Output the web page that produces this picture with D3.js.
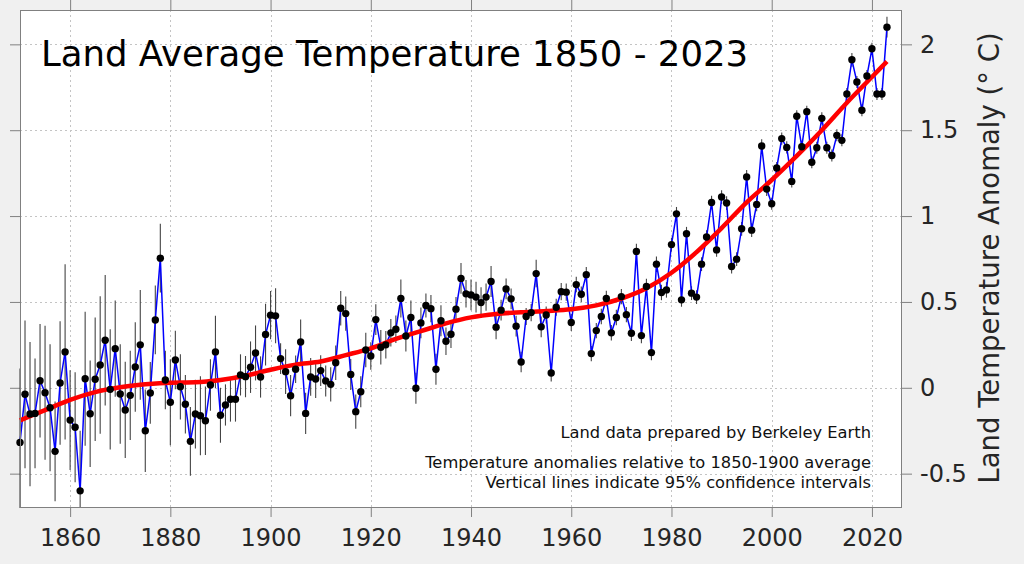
<!DOCTYPE html>
<html>
<head>
<meta charset="utf-8">
<script src="https://cdn.jsdelivr.net/npm/d3@7"></script>
<style>
  html, body { margin: 0; padding: 0; background: #f0f0f0; }
  svg { display: block; font-family: "DejaVu Sans", sans-serif; }
</style>
</head>
<body>
<svg id="chart" width="1024" height="564"></svg>
<script>
const title = "Land Average Temperature 1850 - 2023";
const yLabel = "Land Temperature Anomaly (° C)";
const notes = ["Land data prepared by Berkeley Earth",
  "Temperature anomalies relative to 1850-1900 average",
  "Vertical lines indicate 95% confidence intervals"];

const firstYear = 1850;
const anomalies = [
  -0.318,-0.038,-0.153,-0.149,0.041,-0.029,-0.116,-0.370,0.028,0.209,
  -0.188,-0.230,-0.600,0.053,-0.151,0.050,0.133,0.277,-0.009,0.228,
  -0.036,-0.129,-0.044,0.121,0.250,-0.250,-0.030,0.395,0.755,0.045,
  -0.084,0.162,0.006,-0.096,-0.312,-0.153,-0.163,-0.192,0.016,0.209,
  -0.160,-0.100,-0.067,-0.067,0.075,0.065,0.120,0.203,0.063,0.310,
  0.423,0.419,0.170,0.094,-0.046,0.108,0.267,-0.149,0.063,0.051,
  0.100,0.040,0.020,0.146,0.463,0.432,0.077,-0.139,-0.023,0.220,
  0.185,0.397,0.236,0.250,0.320,0.341,0.520,0.302,0.409,-0.003,
  0.378,0.479,0.461,0.108,0.390,0.271,0.312,0.458,0.637,0.547,
  0.541,0.528,0.496,0.528,0.619,0.353,0.452,0.576,0.518,0.359,
  0.150,0.415,0.438,0.665,0.355,0.424,0.086,0.469,0.560,0.557,
  0.380,0.601,0.545,0.659,0.199,0.333,0.415,0.520,0.320,0.409,
  0.531,0.426,0.318,0.794,0.304,0.590,0.205,0.720,0.555,0.570,
  0.834,1.013,0.512,0.897,0.551,0.528,0.720,0.878,1.079,0.803,
  1.111,1.076,0.706,0.749,0.926,1.228,0.918,1.068,1.408,1.157,
  1.072,1.280,1.451,1.400,1.202,1.581,1.404,1.608,1.313,1.398,
  1.569,1.398,1.353,1.470,1.441,1.711,1.910,1.781,1.616,1.816,
  1.974,1.711,1.711,2.100
];
const uncertainty = [
  0.43,0.43,0.42,0.32,0.33,0.39,0.37,0.29,0.36,0.51,
  0.29,0.32,0.35,0.39,0.31,0.36,0.40,0.38,0.35,0.28,
  0.29,0.28,0.26,0.26,0.32,0.24,0.18,0.20,0.20,0.17,
  0.25,0.17,0.19,0.17,0.20,0.20,0.23,0.20,0.15,0.21,
  0.16,0.12,0.13,0.13,0.12,0.12,0.15,0.16,0.12,0.18,
  0.14,0.16,0.09,0.13,0.12,0.08,0.13,0.12,0.11,0.11,
  0.09,0.09,0.10,0.10,0.10,0.10,0.09,0.10,0.09,0.10,
  0.08,0.09,0.10,0.08,0.08,0.08,0.11,0.09,0.10,0.09,
  0.09,0.07,0.08,0.09,0.09,0.08,0.08,0.07,0.09,0.08,
  0.09,0.09,0.09,0.08,0.09,0.07,0.06,0.06,0.06,0.06,
  0.06,0.05,0.05,0.08,0.06,0.05,0.05,0.05,0.05,0.05,
  0.05,0.045,0.045,0.045,0.045,0.045,0.045,0.045,0.045,0.045,
  0.045,0.045,0.045,0.045,0.045,0.045,0.045,0.045,0.045,0.045,
  0.04,0.04,0.04,0.04,0.04,0.04,0.04,0.04,0.04,0.04,
  0.04,0.04,0.04,0.04,0.04,0.04,0.04,0.04,0.04,0.04,
  0.035,0.035,0.035,0.035,0.035,0.035,0.035,0.035,0.035,0.035,
  0.035,0.035,0.035,0.035,0.035,0.035,0.04,0.035,0.035,0.035,
  0.035,0.035,0.035,0.06
];
const trendYears = [1850,1855,1860,1865,1870,1875,1880,1885,1890,1895,1900,1905,1910,1915,1920,1925,1930,1935,1940,1945,1950,1955,1960,1965,1970,1975,1980,1985,1990,1995,2000,2005,2010,2015,2020,2023];
const trendValues = [-0.19,-0.13,-0.07,-0.025,0.003,0.02,0.03,0.032,0.045,0.07,0.105,0.135,0.153,0.19,0.23,0.285,0.33,0.375,0.41,0.43,0.44,0.447,0.457,0.48,0.52,0.58,0.67,0.79,0.93,1.08,1.21,1.35,1.50,1.66,1.81,1.90];
const xTicks = [1860,1880,1900,1920,1940,1960,1980,2000,2020];
const yTicks = [-0.5,0,0.5,1,1.5,2];
const yTickLabels = ["-0.5","0","0.5","1","1.5","2"];

const data = anomalies.map((v,i) => ({year: firstYear+i, v, u: uncertainty[i]}));
const trend = trendYears.map((y,i) => ({year: y, v: trendValues[i]}));

const L = 20, R = 902, T = 10, B = 508;
const x = d3.scaleLinear().domain([1850, 2026]).range([L, R]);
const y = d3.scaleLinear().domain([-0.7, 2.2]).range([B, T]);

const svg = d3.select("#chart");
svg.append("rect").attr("width",1024).attr("height",564).attr("fill","#f0f0f0");
svg.append("rect").attr("x",L).attr("y",T).attr("width",R-L).attr("height",B-T).attr("fill","#fff");

// grid
const grid = svg.append("g").attr("stroke","#c4c4c4").attr("stroke-width",1).attr("stroke-dasharray","2,3");
grid.selectAll(".gx").data(xTicks).join("line")
  .attr("x1",d=>Math.round(x(d))+0.5).attr("x2",d=>Math.round(x(d))+0.5).attr("y1",T).attr("y2",B);
grid.selectAll(".gy").data(yTicks).join("line")
  .attr("y1",d=>Math.round(y(d))+0.5).attr("y2",d=>Math.round(y(d))+0.5).attr("x1",L).attr("x2",R);

// axes
const tickCol = "#808080";
const fmtY = d => yTickLabels[yTicks.indexOf(d)];
const axB = svg.append("g").attr("transform",`translate(0,${B})`)
  .call(d3.axisBottom(x).tickValues(xTicks).tickSize(9).tickPadding(12).tickFormat(d3.format("d")));
const axT = svg.append("g").attr("transform",`translate(0,${T})`)
  .call(d3.axisTop(x).tickValues(xTicks).tickSize(10).tickFormat(""));
const axL = svg.append("g").attr("transform",`translate(${L},0)`)
  .call(d3.axisLeft(y).tickValues(yTicks).tickSize(10).tickFormat(""));
const axR = svg.append("g").attr("transform",`translate(${R},0)`)
  .call(d3.axisRight(y).tickValues(yTicks).tickSize(10).tickPadding(8).tickFormat(fmtY));
[axB,axT,axL,axR].forEach(a => {
  a.select(".domain").remove();
  a.selectAll(".tick line").attr("stroke",tickCol);
  a.selectAll("text").attr("fill","#262626").style("font-size","24px").style("font-family","DejaVu Sans");
});

// error bars
svg.append("g").attr("stroke","#444").attr("stroke-width",1.1)
  .selectAll("line").data(data).join("line")
  .attr("x1",d=>x(d.year)).attr("x2",d=>x(d.year))
  .attr("y1",d=>Math.max(T, y(d.v+d.u))).attr("y2",d=>Math.min(B, y(d.v-d.u)));

// blue line
svg.append("path").datum(data).attr("fill","none").attr("stroke","#0000ff").attr("stroke-width",1.5)
  .attr("d", d3.line().x(d=>x(d.year)).y(d=>y(d.v)));

// trend
svg.append("path").datum(trend).attr("fill","none").attr("stroke","#ff0000").attr("stroke-width",4.5)
  .attr("stroke-linecap","butt")
  .attr("d", d3.line().curve(d3.curveMonotoneX).x(d=>x(d.year)).y(d=>y(d.v)));

// dots
svg.append("g").selectAll("circle").data(data).join("circle")
  .attr("cx",d=>x(d.year)).attr("cy",d=>y(d.v)).attr("r",3.7).attr("fill","#000");

// frame
svg.append("rect").attr("x",L+0.5).attr("y",T+0.5).attr("width",R-L-1).attr("height",B-T-1)
  .attr("fill","none").attr("stroke","#808080").attr("stroke-width",1);

// title
svg.append("text").attr("x",41).attr("y",66).attr("fill","#000")
  .style("font-size","35.5px").text(title);

// notes
const nb = [438, 468, 488];
svg.append("g").selectAll("text").data(notes).join("text")
  .attr("x",871).attr("y",(d,i)=>nb[i]).attr("text-anchor","end").attr("fill","#111")
  .style("font-size","16.3px").text(d=>d);

// y label
svg.append("text").attr("transform","translate(999,258) rotate(-90)").attr("text-anchor","middle")
  .attr("fill","#262626").style("font-size","27.5px").text(yLabel);
</script>
</body>
</html>
